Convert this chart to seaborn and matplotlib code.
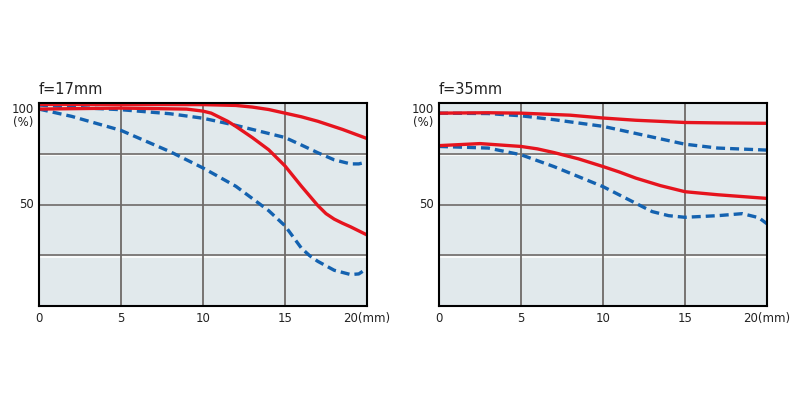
import numpy as np
import pandas as pd
import matplotlib
matplotlib.use("Agg")
import matplotlib.pyplot as plt
import seaborn as sns

# ---- data ----
titles = ["f=17mm", "f=35mm"]
x_ticks = [0, 5, 10, 15, 20]
x_tick_labels = ["0", "5", "10", "15", "20(mm)"]
y_ticks = [50, 100]
y_tick_labels = ["50", "100\n(%)"]

# f=17mm
w_red_top_x = [0, 5, 10, 12, 13, 14, 15, 16, 17, 18.5, 20]
w_red_top_y = [99.3, 99.3, 99.2, 98.8, 98, 96.8, 95, 93.2, 91, 87, 82.5]
w_red_low_x = [0, 5, 9, 10, 10.5, 11, 11.5, 12, 13, 14, 15, 16, 17, 17.5, 18, 18.5, 19, 20]
w_red_low_y = [97, 97.5, 97, 96, 95, 93, 91, 88.5, 83, 77, 69, 59, 49.5, 45.5, 42.8, 40.8, 39, 35]
w_blue_top_x = [0, 3, 5, 8, 10, 12, 13, 15, 16, 17, 18, 19, 19.5, 20]
w_blue_top_y = [99, 97.5, 96.7, 94.7, 92.5, 89, 87, 83, 79.3, 75.5, 72, 70, 70, 71]
w_blue_low_x = [0, 2, 5, 8, 10, 12, 14, 15, 15.5, 16, 16.5, 17, 18, 19, 19.5, 20]
w_blue_low_y = [97, 93.4, 86.5, 76, 68, 59, 47, 39.5, 34, 28.5, 24.8, 22, 17.6, 15.5, 15.8, 18.5]

# f=35mm
t_red_top_x = [0, 3, 5, 8, 10, 12, 15, 17, 20]
t_red_top_y = [95, 95.2, 95, 94, 92.6, 91.5, 90.4, 90.2, 90]
t_red_low_x = [0, 2.5, 5, 6, 7, 8.5, 10, 11, 12, 13.5, 15, 17, 20]
t_red_low_y = [79, 80, 78.6, 77.4, 75.6, 72.5, 68.7, 66, 63, 59.3, 56.3, 54.8, 53]
t_blue_top_x = [0, 3, 5, 7, 10, 12, 15, 17, 20]
t_blue_top_y = [95, 94.8, 93.7, 91.8, 88.5, 85, 79.7, 77.8, 76.8]
t_blue_low_x = [0, 3, 5, 7, 10, 12, 13, 14, 15, 17, 18.5, 19.5, 20]
t_blue_low_y = [78.6, 77.8, 74.5, 68.7, 58.8, 50.6, 46.5, 44.5, 43.7, 44.5, 45.5, 43.5, 40.5]

RED = "#e6141e"
BLUE = "#1462b0"

panels = [
    [(w_blue_top_x, w_blue_top_y, BLUE, "--"),
     (w_blue_low_x, w_blue_low_y, BLUE, "--"),
     (w_red_top_x, w_red_top_y, RED, "-"),
     (w_red_low_x, w_red_low_y, RED, "-")],
    [(t_blue_top_x, t_blue_top_y, BLUE, "--"),
     (t_blue_low_x, t_blue_low_y, BLUE, "--"),
     (t_red_top_x, t_red_top_y, RED, "-"),
     (t_red_low_x, t_red_low_y, RED, "-")],
]

sns.set_theme(style="white")
plt.rcParams['font.family'] = ['DejaVu Sans']

fig = plt.figure(figsize=(8, 4), dpi=100)
fig.patch.set_facecolor("white")
lefts = [39 / 800, 439 / 800]
GRID = "#6e6a68"
for i, (title, series) in enumerate(zip(titles, panels)):
    ax = fig.add_axes([lefts[i], 1 - 306 / 400, 328 / 800, 203 / 400])
    ax.set_facecolor("#e1e9ec")
    for gy in [25, 75]:
        ax.axhline(gy - 0.7, color="white", lw=1.2, zorder=1)
    for gy in [25, 50, 75]:
        ax.axhline(gy, color=GRID, lw=1.2, zorder=1.1)
    for gx in [5, 10, 15]:
        ax.axvline(gx, color=GRID, lw=1.3, zorder=1.2)
    for xs, ys, col, ls in series:
        df = pd.DataFrame({"x": xs, "y": ys})
        sns.lineplot(data=df, x="x", y="y", ax=ax, color=col,
                     linewidth=2.4, zorder=3)
        l = ax.lines[-1]
        l.set_solid_joinstyle("round")
        if ls == "--":
            l.set_dashes([2.7, 1.5])
    ax.set_xlim(0, 20)
    ax.set_ylim(0, 100)
    ax.set_xticks(x_ticks)
    ax.set_xticklabels(x_tick_labels, fontsize=8.5)
    ax.set_yticks(y_ticks)
    ax.set_yticklabels(y_tick_labels, fontsize=8.5, linespacing=1.0)
    ax.set_xlabel("")
    ax.set_ylabel("")
    ax.tick_params(axis="both", length=0, pad=4, colors="#222222")
    for sp in ax.spines.values():
        sp.set_visible(True)
        sp.set_color("black")
        sp.set_linewidth(1.5)
        sp.set_zorder(4)
    ax.text(0, 1.03, title, transform=ax.transAxes, fontsize=10.5,
            ha="left", va="bottom", color="#222222")
    for lab in ax.get_yticklabels():
        if lab.get_text().startswith("100"):
            lab.set_va("top")
        else:
            lab.set_va("center")

fig.savefig("out.png", dpi=100, facecolor="white")
